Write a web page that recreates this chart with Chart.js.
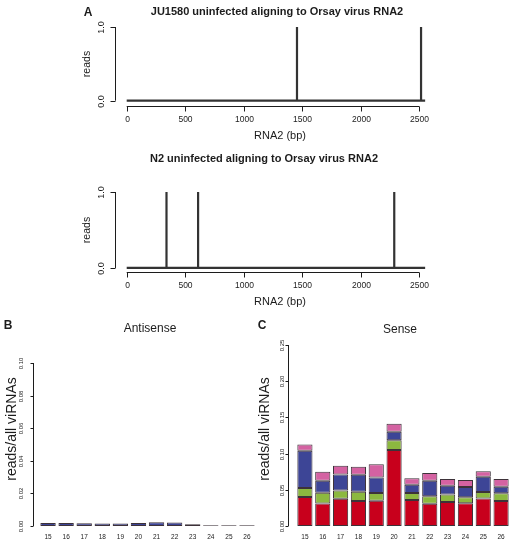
<!DOCTYPE html>
<html>
<head>
<meta charset="utf-8">
<script src="https://cdn.jsdelivr.net/npm/chart.js@4"></script>
<style>
  body { margin: 0; background: #fff; }
  #wrap { position: relative; width: 511px; height: 539px; overflow: hidden; }
  canvas { position: absolute; }
</style>
</head>
<body>
<div id="wrap">
  <canvas id="ju" width="511" height="145" style="left:0;top:0"></canvas>
  <canvas id="n2" width="511" height="165" style="left:0;top:145px"></canvas>
  <canvas id="anti" width="260" height="229" style="left:0;top:310px"></canvas>
  <canvas id="sense" width="261" height="229" style="left:250px;top:310px"></canvas>
</div>
<script>
// panel A: read positions along RNA2
const rna2Length = 2550;
const juSpikes = [1455, 2515];
const juReads = [1, 1];
const n2Spikes = [340, 610, 2286];
const n2Reads = [1, 1, 1];
const bpTicks = [0, 500, 1000, 1500, 2000, 2500];
const readTicks = [0, 1];

// panels B and C: small RNA lengths
const lengths = ['15', '16', '17', '18', '19', '20', '21', '22', '23', '24', '25', '26'];
const antiRed   = [0, 0, 0, 0, 0, 0, 0, 0, 0, 0, 0, 0];
const antiGreen = [0, 0, 0, 0, 0, 0, 0, 0, 0, 0, 0, 0];
const antiBlue  = [0.0019, 0.0019, 0.0017, 0.0016, 0.0016, 0.0018, 0.0023, 0.0022, 0.0010, 0.0004, 0.0004, 0.0004];
const antiPink  = [0, 0, 0, 0, 0, 0, 0, 0, 0, 0, 0, 0];
const senseRed   = [0.040, 0.031, 0.0375, 0.0347, 0.035, 0.105, 0.036, 0.0306, 0.0333, 0.0315, 0.038, 0.0347];
const senseGreen = [0.0125, 0.0148, 0.0115, 0.0125, 0.0106, 0.0135, 0.0097, 0.0106, 0.0102, 0.0083, 0.0088, 0.0107];
const senseBlue  = [0.0514, 0.0166, 0.0223, 0.0236, 0.0213, 0.0116, 0.0112, 0.0213, 0.012, 0.0139, 0.0213, 0.0088];
const sensePink  = [0.0088, 0.0125, 0.012, 0.011, 0.0185, 0.011, 0.0092, 0.0106, 0.0093, 0.0097, 0.0074, 0.0106];
const antiTicks = [0, 0.02, 0.04, 0.06, 0.08, 0.10];
const senseTicks = [0, 0.05, 0.10, 0.15, 0.20, 0.25];

const FONT = '"Liberation Sans", Arial, sans-serif';
const INK = '#1c1c1c';

// R-like axes and text, drawn from the chart's scales
const rStyle = {
  id: 'rStyle',
  afterDraw(chart, args, o) {
    const { ctx, scales } = chart;
    ctx.save();
    ctx.strokeStyle = INK;
    ctx.fillStyle = INK;
    ctx.lineWidth = 1;
    const seg = (x1, y1, x2, y2) => { ctx.beginPath(); ctx.moveTo(x1, y1); ctx.lineTo(x2, y2); ctx.stroke(); };
    const txt = (t, x, y, font, rot) => {
      ctx.save();
      ctx.translate(x, y);
      if (rot) ctx.rotate(-Math.PI / 2);
      ctx.font = font;
      ctx.textAlign = 'center';
      ctx.textBaseline = 'middle';
      ctx.fillText(t, 0, 0);
      ctx.restore();
    };
    if (o.yAxis) {
      const s = scales.y, ax = o.yAxis;
      const x0 = Math.round(ax.x) + 0.5;
      const t = ax.ticks;
      seg(x0, s.getPixelForValue(t[0]), x0, s.getPixelForValue(t[t.length - 1]));
      t.forEach(v => {
        const p = Math.round(s.getPixelForValue(v)) + 0.5;
        seg(x0 - ax.len, p, x0, p);
        txt(v.toFixed(ax.digits), ax.labelX, p, ax.font, true);
      });
    }
    if (o.xAxis) {
      const s = scales.x, ax = o.xAxis;
      const y0 = Math.round(ax.y) + 0.5;
      const t = ax.ticks;
      seg(s.getPixelForValue(t[0]), y0, s.getPixelForValue(t[t.length - 1]), y0);
      t.forEach(v => {
        const p = Math.round(s.getPixelForValue(v)) + 0.5;
        seg(p, y0, p, y0 + ax.len);
        txt(String(v), p, ax.labelY, ax.font, false);
      });
    }
    if (o.cats) {
      const s = scales.x;
      o.cats.labels.forEach((c, i) => txt(c, s.getPixelForValue(i), o.cats.labelY, o.cats.font, false));
    }
    (o.texts || []).forEach(t => txt(t.t, t.x, t.y, t.font, t.rot));
    ctx.restore();
  }
};

function spikeLine(pos, reads) {
  const pts = [{ x: 0, y: 0 }];
  pos.forEach((p, i) => { pts.push({ x: p, y: 0 }, { x: p, y: reads[i] }, { x: p, y: 0 }); });
  pts.push({ x: rna2Length, y: 0 });
  return pts;
}

function coverageChart(id, pos, reads, pad, yMin, xAxisY, tickY, texts) {
  return new Chart(document.getElementById(id), {
    type: 'line',
    data: {
      datasets: [{
        data: spikeLine(pos, reads),
        borderColor: '#333333',
        borderWidth: 2.2,
        pointRadius: 0,
        tension: 0,
        borderJoinStyle: 'bevel'
      }]
    },
    options: {
      responsive: false,
      animation: false,
      events: [],
      layout: { padding: pad },
      scales: {
        x: { type: 'linear', min: -100, max: 2600, display: false },
        y: { min: yMin, max: 1.0, display: false }
      },
      plugins: {
        legend: { display: false },
        tooltip: { enabled: false },
        rStyle: {
          yAxis: { x: 115, ticks: readTicks, len: 5, labelX: 102, digits: 1, font: '9px ' + FONT },
          xAxis: { y: xAxisY, ticks: bpTicks, len: 5, labelY: tickY, font: '8.5px ' + FONT },
          texts: texts
        }
      }
    },
    plugins: [rStyle]
  });
}

coverageChart('ju', juSpikes, juReads,
  { left: 115, right: 80, top: 27, bottom: 39 }, -0.072, 106, 120, [
    { t: 'A', x: 88, y: 13, font: 'bold 12px ' + FONT },
    { t: 'JU1580 uninfected aligning to Orsay virus RNA2', x: 277, y: 12, font: 'bold 11px ' + FONT },
    { t: 'reads', x: 87, y: 64, font: '10.5px ' + FONT, rot: true },
    { t: 'RNA2 (bp)', x: 280, y: 136, font: '11px ' + FONT }
  ]);

coverageChart('n2', n2Spikes, n2Reads,
  { left: 115, right: 80, top: 47, bottom: 38 }, -0.053, 127, 141, [
    { t: 'N2 uninfected aligning to Orsay virus RNA2', x: 264, y: 14, font: 'bold 11px ' + FONT },
    { t: 'reads', x: 87, y: 85, font: '10.5px ' + FONT, rot: true },
    { t: 'RNA2 (bp)', x: 280, y: 157, font: '11px ' + FONT }
  ]);

const segColors = ['#c8001c', '#8cb840', '#3d4596', '#d462a2'];

function stackChart(id, series, yMax, pad, yAxis, texts) {
  return new Chart(document.getElementById(id), {
    type: 'bar',
    data: {
      labels: lengths,
      datasets: series.map((d, i) => ({
        data: d,
        backgroundColor: segColors[i],
        borderColor: 'rgba(40,28,36,0.9)',
        borderWidth: 1,
        borderSkipped: false,
        barPercentage: 0.85,
        categoryPercentage: 1
      }))
    },
    options: {
      responsive: false,
      animation: false,
      events: [],
      layout: { padding: pad },
      scales: {
        x: { stacked: true, display: false },
        y: { stacked: true, min: 0, max: yMax, display: false }
      },
      plugins: {
        legend: { display: false },
        tooltip: { enabled: false },
        rStyle: {
          yAxis: yAxis,
          cats: { labels: lengths, labelY: 227, font: '6.5px ' + FONT },
          texts: texts
        }
      }
    },
    plugins: [rStyle]
  });
}

stackChart('anti', [antiRed, antiGreen, antiBlue, antiPink], 0.10,
  { left: 39, right: 4, top: 53, bottom: 13 },
  { x: 33, ticks: antiTicks, len: 3, labelX: 21.5, digits: 2, font: '6px ' + FONT }, [
    { t: 'B', x: 8, y: 16, font: 'bold 12px ' + FONT },
    { t: 'Antisense', x: 150, y: 19, font: '12px ' + FONT },
    { t: 'reads/all viRNAs', x: 12, y: 119, font: '14px ' + FONT, rot: true }
  ]);

stackChart('sense', [senseRed, senseGreen, senseBlue, sensePink], 0.25,
  { left: 46, right: 1, top: 35, bottom: 13 },
  { x: 38, ticks: senseTicks, len: 3, labelX: 32, digits: 2, font: '6px ' + FONT }, [
    { t: 'C', x: 12, y: 16, font: 'bold 12px ' + FONT },
    { t: 'Sense', x: 150, y: 20, font: '12px ' + FONT },
    { t: 'reads/all viRNAs', x: 15, y: 119, font: '14px ' + FONT, rot: true }
  ]);
</script>
</body>
</html>
